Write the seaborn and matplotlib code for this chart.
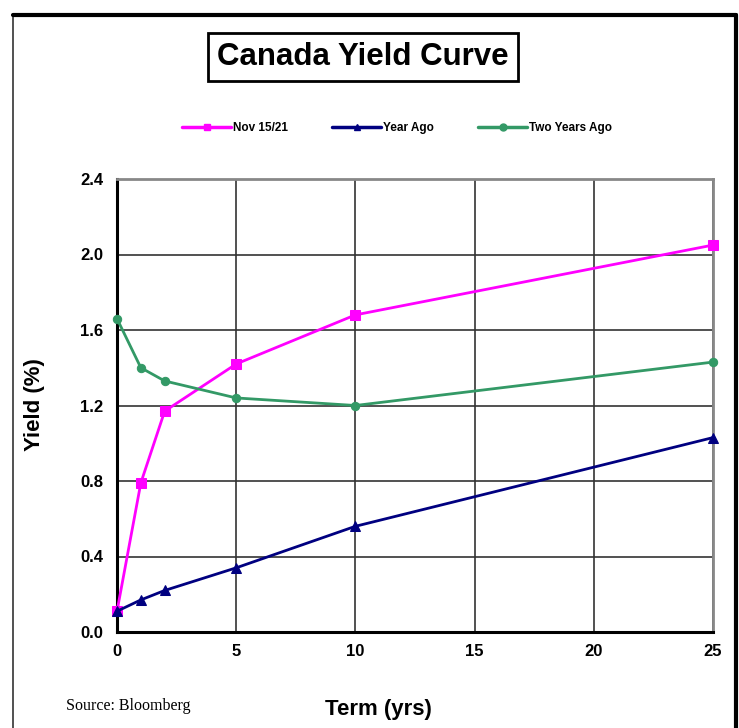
import matplotlib
matplotlib.use("Agg")
import matplotlib.pyplot as plt
import seaborn as sns
import pandas as pd
from matplotlib.lines import Line2D

terms = [0, 1, 2, 5, 10, 25]
nov_15_21 = [0.11, 0.79, 1.17, 1.42, 1.68, 2.05]
year_ago = [0.11, 0.17, 0.22, 0.34, 0.56, 1.03]
two_years_ago = [1.66, 1.40, 1.33, 1.24, 1.20, 1.43]
series_names = ["Nov 15/21", "Year Ago", "Two Years Ago"]
x_ticks = [0, 5, 10, 15, 20, 25]
y_ticks = [0.0, 0.4, 0.8, 1.2, 1.6, 2.0, 2.4]

sns.set_style("white")
plt.rcParams['font.family'] = ['Liberation Sans', 'DejaVu Sans']
plt.rcParams['text.color'] = 'black'
plt.rcParams['axes.labelcolor'] = 'black'
plt.rcParams['xtick.color'] = 'black'
plt.rcParams['ytick.color'] = 'black'

fig = plt.figure(figsize=(7.39, 7.28), dpi=100)
ax = fig.add_axes([117/739, 1 - 632/728, (713-117)/739, (632-179)/728])

colors = ["#FF00FF", "#000080", "#339966"]
markers = ["s", "^", "o"]
msizes = [7, 7, 6]
data = [nov_15_21, year_ago, two_years_ago]
for name, vals, c, m, ms in zip(series_names, data, colors, markers, msizes):
    df = pd.DataFrame({"Term": terms, "Yield": vals})
    sns.lineplot(data=df, x="Term", y="Yield", ax=ax, color=c, marker=m,
                 markersize=ms, markeredgecolor=c, linewidth=2, clip_on=False,
                 zorder=3)

ax.set_xlim(0, 25)
ax.set_ylim(0, 2.4)
ax.set_xticks(x_ticks)
ax.set_yticks(y_ticks)
ax.set_xticklabels([str(t) for t in x_ticks])
ax.set_yticklabels([f"{t:.1f}" for t in y_ticks])
ax.grid(True, color="#333333", linewidth=1.2)
ax.set_axisbelow(True)
for s in ["left", "bottom"]:
    ax.spines[s].set_color("black")
    ax.spines[s].set_linewidth(2.2)
for s in ["top", "right"]:
    ax.spines[s].set_color("#888888")
    ax.spines[s].set_linewidth(2)
ax.tick_params(axis="both", direction="out", length=6, width=1.5, color="black",
               labelsize=12, pad=4)
ax.tick_params(axis="x", pad=3)
for lab in ax.get_xticklabels() + ax.get_yticklabels():
    lab.set_fontweight("bold")
ax.set_xlabel("Term (yrs)", fontsize=16, fontweight="bold")
ax.xaxis.set_label_coords((378-117)/596, -(710-632)/453)
ax.xaxis.label.set_va("center")
ax.set_ylabel("Yield (%)", fontsize=16, fontweight="bold")
ax.yaxis.set_label_coords((35-117)/596, (632-405)/453)
ax.yaxis.label.set_va("center")

# legend
handles = [Line2D([0], [0], color=c, marker=m, markersize=5, linewidth=2.5)
           for c, m in zip(colors, markers)]
leg = fig.legend(handles, series_names, loc="center", bbox_to_anchor=(397/739, 1 - 128/728),
                 ncol=3, frameon=False, handlelength=4.1,
                 columnspacing=3.8, handletextpad=0.15,
                 prop={"weight": "bold", "size": 8.5})

# title with box
fig.text(363/739, 1 - 57/728, "Canada Yield Curve", ha="center", va="center",
         fontsize=22.5, fontweight="bold",
         bbox=dict(boxstyle="square,pad=0.3", facecolor="white", edgecolor="black", linewidth=2))

fig.text(66/739, 1 - 706/728, "Source: Bloomberg", ha="left", va="center",
         fontsize=11.5, family="Liberation Serif")

# figure border
fig.add_artist(Line2D([13/739, 13/739], [0, 1 - 14/728], transform=fig.transFigure,
                      color="#333333", linewidth=1.2))
fig.add_artist(Line2D([13/739, 736/739], [1 - 15/728, 1 - 15/728], transform=fig.transFigure,
                      color="black", linewidth=3))
fig.add_artist(Line2D([736/739, 736/739], [0, 1 - 15/728], transform=fig.transFigure,
                      color="black", linewidth=3))

fig.savefig("out.png", dpi=100)
